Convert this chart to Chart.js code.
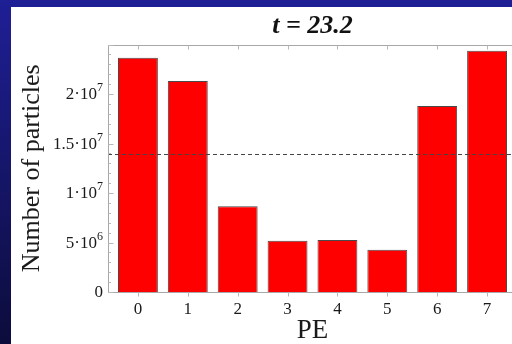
<!DOCTYPE html>
<html>
<head>
<meta charset="utf-8">
<script src="https://cdn.jsdelivr.net/npm/chart.js@4"></script>
<style>
  html, body { margin: 0; padding: 0; width: 512px; height: 344px; overflow: hidden; }
  body { background: linear-gradient(#1f1f96, #0c0c3c); }
  #panel { position: absolute; left: 11px; top: 7px; width: 529px; height: 337px; background: #fff; }
</style>
</head>
<body>
<div id="panel"><canvas id="pe" width="529" height="337"></canvas></div>
<script>
// particle count per processing element at t = 23.2
const peIndex = [0, 1, 2, 3, 4, 5, 6, 7];
const particleCounts = [2.367e7, 2.131e7, 8.66e6, 5.18e6, 5.25e6, 4.27e6, 1.879e7, 2.437e7];
const meanLevel = 1.394e7;

const yTicks = [0, 5e6, 1e7, 1.5e7, 2e7];
const yTickText = [['0', ''], ['5·10', '6'], ['1·10', '7'], ['1.5·10', '7'], ['2·10', '7']];

const serif = 'Liberation Serif, Times New Roman, serif';

// frame, tick marks, y labels with exponents and the dashed mean line
const framePlugin = {
  id: 'framePlugin',
  afterDatasetsDraw(chart) {
    const { ctx, chartArea: a, scales: { x, y } } = chart;
    ctx.save();

    ctx.strokeStyle = '#444';
    ctx.lineWidth = 1;
    ctx.setLineDash([4, 3]);
    const ym = Math.round(y.getPixelForValue(meanLevel)) + 0.5;
    ctx.beginPath();
    ctx.moveTo(a.left, ym);
    ctx.lineTo(a.right, ym);
    ctx.stroke();
    ctx.setLineDash([]);

    const L = Math.round(a.left) + 0.5;
    const T = Math.round(a.top) + 0.5, B = Math.round(a.bottom) + 0.5;
    ctx.strokeStyle = '#a8a8a8';
    ctx.beginPath();
    ctx.moveTo(a.right, T); ctx.lineTo(L, T); ctx.lineTo(L, B); ctx.lineTo(a.right, B);
    ctx.stroke();

    ctx.strokeStyle = '#b8b8b8';
    ctx.beginPath();
    peIndex.forEach(v => {
      const px = Math.round(x.getPixelForValue(v)) + 0.5;
      ctx.moveTo(px, B); ctx.lineTo(px, B + 4);
      ctx.moveTo(px, T); ctx.lineTo(px, T + 4);
    });
    for (let v = 0; v <= 2.5e7; v += 1e6) {
      const py = Math.round(y.getPixelForValue(v)) + 0.5;
      const len = v % 5e6 === 0 ? 5 : 2.5;
      ctx.moveTo(L, py); ctx.lineTo(L + len, py);
    }
    ctx.stroke();

    ctx.fillStyle = '#1a1a1a';
    ctx.textBaseline = 'middle';
    yTicks.forEach((v, i) => {
      const py = y.getPixelForValue(v);
      const [base, sup] = yTickText[i];
      let right = a.left - 5;
      if (sup) {
        ctx.font = '12px ' + serif;
        ctx.textAlign = 'right';
        ctx.fillText(sup, right, py - 6);
        right -= ctx.measureText(sup).width;
      }
      ctx.font = '17px ' + serif;
      ctx.textAlign = 'right';
      ctx.fillText(base, right, py + 1);
    });
    ctx.restore();
  }
};

new Chart(document.getElementById('pe'), {
  type: 'bar',
  data: {
    datasets: [{
      data: peIndex.map((v, i) => ({ x: v, y: particleCounts[i] })),
      backgroundColor: '#ff0000',
      borderColor: '#4a4a4a',
      borderWidth: 1,
      barPercentage: 0.8,
      categoryPercentage: 1
    }]
  },
  options: {
    responsive: false,
    animation: false,
    layout: { padding: { left: 0, right: 23, top: 0, bottom: 0 } },
    plugins: {
      legend: { display: false },
      tooltip: { enabled: false },
      title: {
        display: true,
        text: 't = 23.2',
        fullSize: false,
        color: '#111',
        font: { family: serif, size: 26, style: 'italic', weight: 'bold' },
        padding: { top: 3.8, bottom: 2.5 }
      }
    },
    scales: {
      x: {
        type: 'linear',
        offset: false,
        min: -0.6,
        max: 7.6,
        afterBuildTicks: s => { s.ticks = peIndex.map(v => ({ value: v })); },
        afterFit: s => { s.height = 52; },
        grid: { display: false, drawTicks: false, offset: false },
        border: { display: false },
        ticks: { color: '#1a1a1a', padding: 7, font: { family: serif, size: 17 } },
        title: {
          display: true,
          text: 'PE',
          color: '#1a1a1a',
          font: { family: serif, size: 27 },
          padding: { top: 0, bottom: -3.5 }
        }
      },
      y: {
        min: 0,
        max: 2.5e7,
        afterFit: s => { s.width = 97; },
        grid: { display: false, drawTicks: false },
        border: { display: false },
        ticks: { display: false },
        title: {
          display: true,
          text: 'Number of particles',
          color: '#1a1a1a',
          font: { family: serif, size: 26 },
          padding: { top: 6, bottom: 0 }
        }
      }
    }
  },
  plugins: [framePlugin]
});
</script>
</body>
</html>
